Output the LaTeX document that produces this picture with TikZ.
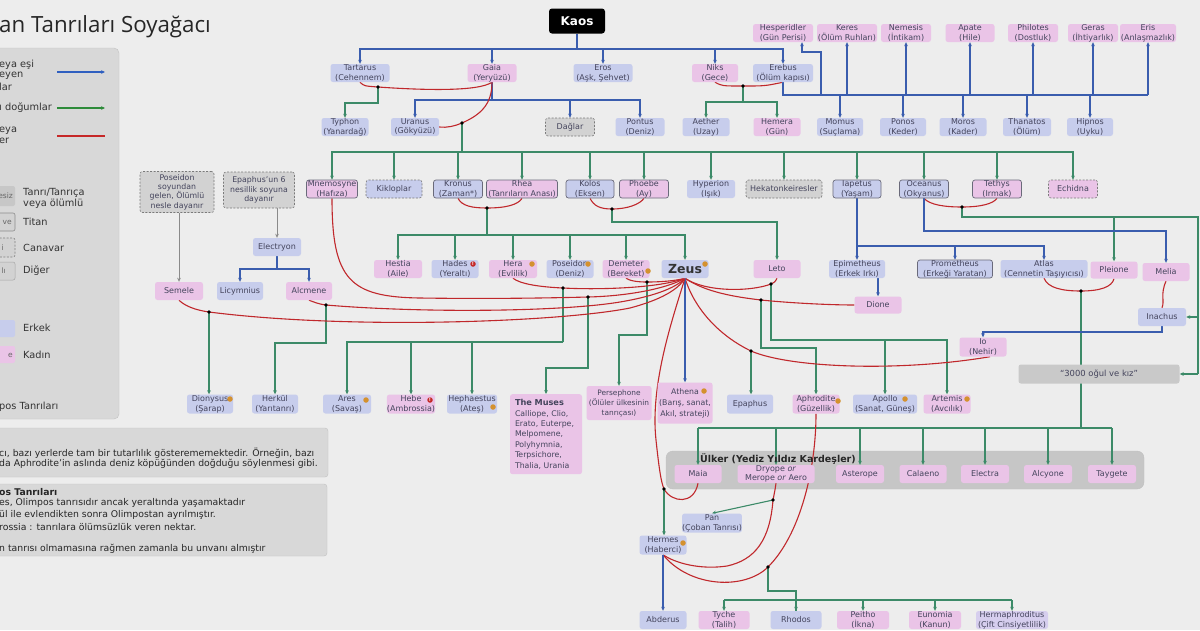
\documentclass[tikz,border=0pt]{standalone}
\usepackage{fontspec}
\setmainfont{DejaVu Sans}
\newfontfamily\titlefont{Open Sans}
\usetikzlibrary{arrows.meta}
\definecolor{bgc}{HTML}{EDEDED}
\definecolor{bluec}{HTML}{C7CDEC}
\definecolor{pinkc}{HTML}{EAC4E7}
\definecolor{grayc}{HTML}{D2D2D2}
\definecolor{lavc}{HTML}{D6CEEE}
\definecolor{txtc}{HTML}{44445C}
\definecolor{titc}{HTML}{6A6A7A}
\definecolor{monc}{HTML}{7A7A7A}
\definecolor{bluel}{HTML}{3A5DAE}
\definecolor{greenl}{HTML}{3C8A68}
\definecolor{redl}{HTML}{C0282C}
\definecolor{grayl}{HTML}{8A8A8A}
\definecolor{panelc}{HTML}{D8D8D8}
\definecolor{panelb}{HTML}{C2C2C2}
\definecolor{ogulc}{HTML}{C9C9C9}
\definecolor{ulkerc}{HTML}{C6C6C6}
\definecolor{olc}{HTML}{D4912F}
\definecolor{redmc}{HTML}{C42A2A}
\definecolor{legb}{HTML}{2F5FC0}
\definecolor{legg}{HTML}{2E8B3A}
\definecolor{legr}{HTML}{C62828}
\pgfdeclarelayer{back}
\pgfdeclarelayer{lines}
\pgfsetlayers{back,lines,main}
\newcommand\nf{\fontsize{8}{9.8}\selectfont}
\begin{document}
\begin{tikzpicture}[x=1pt,y=-1pt,
  nb/.style={rounded corners=2.5pt, inner sep=0pt, minimum height=18pt, align=center, font=\nf, text=txtc},
  mb/.style={nb, fill=bluec},
  fb/.style={nb, fill=pinkc},
  gb/.style={nb, fill=grayc},
  tit/.style={draw=titc, line width=0.7pt},
  mon/.style={draw=monc, dash pattern=on 2pt off 1.5pt, line width=0.6pt},
  wd/.style={minimum width=#1},
  ht/.style={minimum height=#1},
  tip/.style={-{Stealth[length=4pt,width=3.6pt]}},
  bl/.style={draw=bluel, line width=1.2pt},
  blA/.style={bl, tip},
  gr/.style={draw=greenl, line width=1.1pt},
  grA/.style={gr, tip},
  rd/.style={draw=redl, line width=1.1pt},
  gyA/.style={draw=grayl, line width=0.9pt, tip},
  jd/.style={circle, fill=black, inner sep=0pt, minimum size=3.6pt},
  olm/.style={circle, fill=olc, inner sep=0pt, minimum size=5.5pt},
  rdm/.style={circle, fill=redmc, inner sep=0pt, minimum size=5.5pt, text=white, font=\bfseries\fontsize{4.5}{4.5}\selectfont},
  legt/.style={anchor=west, inner sep=0pt, text=black!80, font=\fontsize{9.8}{11}\selectfont},
  notet/.style={anchor=west, inner sep=0pt, text=black!85, font=\fontsize{9.3}{10}\selectfont},
  legbox/.style={rounded corners=2pt}
]
\useasboundingbox (0,0) rectangle (1200,630);
\begin{pgfonlayer}{back}
\fill[bgc] (0,0) rectangle (1200,630);
\draw[fill=panelc, draw=panelb, rounded corners=5pt] (-10,48) rectangle (119,419);
\draw[fill=panelc, draw=panelb, rounded corners=3pt] (-10,428) rectangle (328,477);
\draw[fill=panelc, draw=panelb, rounded corners=3pt] (-10,484) rectangle (327,556);
\draw[fill=ulkerc, draw=black!25, rounded corners=7pt] (666,451) rectangle (1144,489);
\end{pgfonlayer}

% title
\node[anchor=west, inner sep=0pt, font=\titlefont\fontsize{22.3}{22}\selectfont, text=black!85] (title) at (-1,27) {an Tanrıları Soyağacı};

% legend
\node[legt] (l1) at (-1,65) {eya eşi};
\node[legt] (l2) at (-1,76) {eyen};
\node[legt] (l3) at (-1,87) {lar};
\node[legt] (l4) at (-1,108) {ı doğumlar};
\node[legt] (l5) at (-1,131) {eya};
\node[legt] (l6) at (-1,141) {er};
\coordinate (lb1) at (57,72); \coordinate (lb2) at (105,72);
\coordinate (lg1) at (57,108); \coordinate (lg2) at (105,108);
\coordinate (lr1) at (57,136); \coordinate (lr2) at (105,136);
\draw[draw=legb, line width=1.4pt, tip] (lb1) -- (lb2);
\draw[draw=legg, line width=1.4pt, tip] (lg1) -- (lg2);
\draw[draw=legr, line width=1.4pt] (lr1) -- (lr2);
\fill[fill=black!22, rounded corners=2pt] (-12,186) rectangle (15,206);
\node[anchor=east, inner sep=0pt, font=\fontsize{7.5}{8}\selectfont, text=black!60] (e1) at (13,196) {esiz};
\draw[fill=grayc, draw=black!45, line width=0.6pt, rounded corners=2pt] (-12,213) rectangle (15,231);
\node[anchor=east, inner sep=0pt, font=\fontsize{7.5}{8}\selectfont, text=black!60] (e2) at (12,222) {ve};
\draw[fill=grayc, draw=black!50, dash pattern=on 2pt off 1.5pt, line width=0.6pt, rounded corners=2pt] (-12,238) rectangle (15,257);
\node[anchor=east, inner sep=0pt, font=\fontsize{7.5}{8}\selectfont, text=black!60] (e3) at (4,248) {i};
\draw[fill=grayc, draw=black!35, line width=0.5pt, rounded corners=2pt] (-12,262) rectangle (15,280);
\node[anchor=east, inner sep=0pt, font=\fontsize{7.5}{8}\selectfont, text=black!60] (e4) at (6,271) {lı};
\fill[fill=bluec, rounded corners=2pt] (-12,320) rectangle (15,337);
\fill[fill=pinkc, rounded corners=2pt] (-12,346) rectangle (15,363);
\node[anchor=east, inner sep=0pt, font=\fontsize{7.5}{8}\selectfont, text=black!60] (e6) at (13,355) {e};
\node[legt] (t1) at (23,193) {Tanrı/Tanrıça};
\node[legt] (t2) at (23,204) {veya ölümlü};
\node[legt] (t3) at (23,222) {Titan};
\node[legt] (t4) at (23,248) {Canavar};
\node[legt] (t5) at (23,271) {Diğer};
\node[legt] (t6) at (23,328) {Erkek};
\node[legt] (t7) at (23,355) {Kadın};
\node[legt] (t8) at (-1,407) {pos Tanrıları};

% notes
\node[notet] (n1) at (-1,453) {cı, bazı yerlerde tam bir tutarlılık gösterememektedir. Örneğin, bazı};
\node[notet] (n2) at (-1,464) {da Aphrodite’in aslında deniz köpüğünden doğduğu söylenmesi gibi.};
\node[notet, font=\bfseries\fontsize{9.3}{10}\selectfont] (n3) at (-1,492) {os Tanrıları};
\node[notet] (n4) at (-1,503) {es, Olimpos tanrısıdır ancak yeraltında yaşamaktadır};
\node[notet] (n5) at (-1,515) {ül ile evlendikten sonra Olimpostan ayrılmıştır.};
\node[notet] (n6) at (-1,527) {rossia : tanrılara ölümsüzlük veren nektar.};
\node[notet] (n7) at (-1,549) {n tanrısı olmamasına rağmen zamanla bu unvanı almıştır};

% ===== nodes =====
\node[nb, fill=black, text=white, wd=56, ht=25, rounded corners=3pt, font=\bfseries\fontsize{12}{12}\selectfont] (kaos) at (577,21) {Kaos};

\node[fb,wd=60] (hesperidler) at (783,33) {Hesperidler\\(Gün Perisi)};
\node[fb,wd=60] (keres) at (847,33) {Keres\\(Ölüm Ruhları)};
\node[fb,wd=50] (nemesis) at (906,33) {Nemesis\\(İntikam)};
\node[fb,wd=49] (apate) at (970,33) {Apate\\(Hile)};
\node[fb,wd=50] (philotes) at (1033,33) {Philotes\\(Dostluk)};
\node[fb,wd=50] (geras) at (1093,33) {Geras\\(İhtiyarlık)};
\node[fb,wd=56] (eris) at (1148,33) {Eris\\(Anlaşmazlık)};

\node[mb,wd=59] (tartarus) at (360,73) {Tartarus\\(Cehennem)};
\node[fb,wd=49] (gaia) at (492,73) {Gaia\\(Yeryüzü)};
\node[mb,wd=59] (eros) at (603,73) {Eros\\(Aşk, Şehvet)};
\node[fb,wd=46] (niks) at (715,73) {Niks\\(Gece)};
\node[mb,wd=60] (erebus) at (783,73) {Erebus\\(Ölüm kapısı)};

\node[mb,wd=47] (typhon) at (345,127) {Typhon\\(Yanardağ)};
\node[mb,wd=48] (uranus) at (415,127) {Uranus\\(Gökyüzü)};
\node[gb,mon,wd=49] (daglar) at (570,127) {Dağlar};
\node[mb,wd=49] (pontus) at (640,127) {Pontus\\(Deniz)};
\node[mb,wd=47] (aether) at (706,127) {Aether\\(Uzay)};
\node[fb,wd=47] (hemera) at (777,127) {Hemera\\(Gün)};
\node[mb,wd=46] (momus) at (840,127) {Momus\\(Suçlama)};
\node[mb,wd=46] (ponos) at (903,127) {Ponos\\(Keder)};
\node[mb,wd=47] (moros) at (963,127) {Moros\\(Kader)};
\node[mb,wd=48] (thanatos) at (1027,127) {Thanatos\\(Ölüm)};
\node[mb,wd=46] (hipnos) at (1090,127) {Hipnos\\(Uyku)};

\node[fb,tit,wd=51] (mnemosyne) at (332,189) {Mnemosyne\\(Hafıza)};
\node[mb,mon,wd=56] (kikloplar) at (394,189) {Kikloplar};
\node[mb,tit,wd=49] (kronus) at (458,189) {Kronus\\(Zaman*)};
\node[fb,tit,wd=71] (rhea) at (522,189) {Rhea\\(Tanrıların Anası)};
\node[mb,tit,wd=48] (kolos) at (590,189) {Kolos\\(Eksen)};
\node[fb,tit,wd=49] (phoebe) at (644,189) {Phoebe\\(Ay)};
\node[mb,wd=48] (hyperion) at (711,189) {Hyperion\\(Işık)};
\node[gb,mon,wd=76] (hekaton) at (784,189) {Hekatonkeiresler};
\node[mb,tit,wd=48] (iapetus) at (857,189) {Iapetus\\(Yaşam)};
\node[mb,tit,wd=49] (oceanus) at (924,189) {Oceanus\\(Okyanus)};
\node[fb,tit,wd=49] (tethys) at (997,189) {Tethys\\(Irmak)};
\node[fb,mon,wd=49] (echidna) at (1073,189) {Echidna};

\node[fb,wd=48] (hestia) at (398,269) {Hestia\\(Aile)};
\node[mb,wd=47] (hades) at (455,269) {Hades\\(Yeraltı)};
\node[fb,wd=48] (hera) at (513,269) {Hera\\(Evlilik)};
\node[mb,wd=47] (poseidon) at (570,269) {Poseidon\\(Deniz)};
\node[fb,wd=47] (demeter) at (626,269) {Demeter\\(Bereket)};
\node[mb,wd=47,text=black!80,font=\bfseries\fontsize{12.5}{13}\selectfont] (zeus) at (685,269) {Zeus};
\node[fb,wd=47] (leto) at (777,269) {Leto};
\node[mb,wd=56] (epimetheus) at (857,269) {Epimetheus\\(Erkek Irkı)};
\node[mb,tit,wd=75] (prometheus) at (955,269) {Prometheus\\(Erkeği Yaratan)};
\node[mb,wd=87] (atlas) at (1044,269) {Atlas\\(Cennetin Taşıyıcısı)};
\node[fb,wd=47,ht=17] (pleione) at (1114,270) {Pleione};
\node[fb,wd=47] (melia) at (1166,272) {Melia};
\node[fb,wd=47,ht=17] (dione) at (878,305) {Dione};
\node[mb,wd=48] (inachus) at (1162,317) {Inachus};
\node[fb,wd=47,ht=19] (io) at (983,347) {Io\\(Nehir)};
\node[nb,fill=ogulc,wd=161,ht=19,font=\fontsize{8.4}{9}\selectfont] (ogul) at (1099,374) {“3000 oğul ve kız”};

\node[gb,mon,wd=74,ht=41,font=\fontsize{7.8}{9.4}\selectfont] (poseidonbox) at (177,192) {Poseidon\\soyundan\\gelen, Ölümlü\\nesle dayanır};
\node[gb,mon,wd=71,ht=36,font=\fontsize{7.8}{9.4}\selectfont] (epaphusbox) at (259,190) {Epaphus’un 6\\nesillik soyuna\\dayanır};
\node[mb,wd=48] (electryon) at (277,247) {Electryon};
\node[fb,wd=48] (semele) at (179,291) {Semele};
\node[mb,wd=46] (licymnius) at (240,291) {Licymnius};
\node[fb,wd=46] (alcmene) at (309,291) {Alcmene};

\node[mb,wd=46,ht=19] (dionysus) at (210,404) {Dionysus\\(Şarap)};
\node[mb,wd=46,ht=19] (herkul) at (275,404) {Herkül\\(Yarıtanrı)};
\node[mb,wd=48,ht=19] (ares) at (347,404) {Ares\\(Savaş)};
\node[fb,wd=48,ht=19] (hebe) at (411,404) {Hebe\\(Ambrossia)};
\node[mb,wd=50,ht=19] (hephaestus) at (472,404) {Hephaestus\\(Ateş)};
\node[fb,wd=72,ht=80,anchor=north,align=left,text width=62,font=\fontsize{7.8}{10.4}\selectfont] (muses) at (546,394) {\textbf{\fontsize{8.2}{10.4}\selectfont The Muses}\\Calliope, Clio,\\Erato, Euterpe,\\Melpomene,\\Polyhymnia,\\Terpsichore,\\Thalia, Urania};
\node[fb,wd=65,ht=34,font=\fontsize{7.4}{10}\selectfont] (persephone) at (619,403) {Persephone\\(Ölüler ülkesinin\\tanrıçası)};
\node[fb,wd=55,ht=41,font=\fontsize{7.8}{11}\selectfont] (athena) at (685,403) {Athena\\(Barış, sanat,\\Akıl, strateji)};
\node[mb,wd=46,ht=19] (epaphus) at (750,404) {Epaphus};
\node[fb,wd=47,ht=19] (aphrodite) at (816,404) {Aphrodite\\(Güzellik)};
\node[mb,wd=64,ht=19] (apollo) at (885,404) {Apollo\\(Sanat, Güneş)};
\node[fb,wd=47,ht=19] (artemis) at (947,404) {Artemis\\(Avcılık)};

\node[anchor=center, inner sep=0pt, text=black!85, font=\bfseries\fontsize{9.5}{10}\selectfont] (ulker) at (778,459) {Ülker (Yediz Yıldız Kardeşler)};
\node[fb,wd=47] (maia) at (698,474) {Maia};
\node[fb,wd=77] (dryope) at (776,474) {Dryope \textit{or}\\Merope \textit{or} Aero};
\node[fb,wd=48] (asterope) at (860,474) {Asterope};
\node[fb,wd=47] (calaeno) at (923,474) {Calaeno};
\node[fb,wd=48] (electra) at (985,474) {Electra};
\node[fb,wd=48] (alcyone) at (1048,474) {Alcyone};
\node[fb,wd=48] (taygete) at (1112,474) {Taygete};

\node[mb,wd=59,ht=19] (pan) at (712,523) {Pan\\(Çoban Tanrısı)};
\node[mb,wd=47,ht=19] (hermes) at (663,545) {Hermes\\(Haberci)};
\node[mb,wd=47] (abderus) at (663,620) {Abderus};
\node[fb,wd=51] (tyche) at (724,620) {Tyche\\(Talih)};
\node[mb,wd=51] (rhodos) at (796,620) {Rhodos};
\node[fb,wd=52] (peitho) at (863,620) {Peitho\\(İkna)};
\node[fb,wd=52] (eunomia) at (935,620) {Eunomia\\(Kanun)};
\node[nb,fill=lavc,wd=72] (hermaphroditus) at (1012,620) {Hermaphroditus\\(Çift Cinsiyetlilik)};

% ===== junction coordinates =====
\coordinate (dTG) at (378,87);
\coordinate (dGU) at (462,123);
\coordinate (dNE) at (743,86);
\coordinate (dKR) at (487,208);
\coordinate (dKP) at (612,209);
\coordinate (dOT) at (962,207);
\coordinate (dAP) at (1081,291);
\coordinate (dZDe) at (647,282);
\coordinate (dZHe) at (563,288);
\coordinate (dZMn) at (588,297);
\coordinate (dZAl) at (326,305);
\coordinate (dZSe) at (209,312);
\coordinate (dZLe) at (771,284);
\coordinate (dZDi) at (761,300);
\coordinate (dZIo) at (751,351);
\coordinate (dZMa) at (664,489);
\coordinate (dDH) at (773,500);
\coordinate (dAH) at (768,567);

\begin{pgfonlayer}{lines}
% Kaos
\draw[bl] (kaos.south) -- (577,49);
\foreach \c in {tartarus,gaia,eros,niks,erebus} \draw[blA] (577,49) -| (\c.north);
% Tartarus - Gaia
\draw[rd] (tartarus.south) .. controls (364,86) .. (dTG) .. controls (420,90) and (478,92) .. (gaia.south);
\draw[grA] (dTG) -- (dTG |- 0,103) -| (typhon.north);
% Gaia children
\draw[bl] (gaia.south) -- (492,100);
\foreach \c in {uranus,daglar,pontus} \draw[blA] (492,100) -| (\c.north);
% Gaia - Uranus
\draw[rd] (gaia.south) .. controls (492,105) and (480,115) .. (dGU) .. controls (455,126) and (447,128) .. (uranus.east);
\draw[gr] (dGU) -- (462,152);
\foreach \c in {mnemosyne,kikloplar,kronus,rhea,kolos,phoebe,hyperion,hekaton,iapetus,oceanus,tethys,echidna} \draw[grA] (462,152) -| (\c.north);
% Niks - Erebus
\draw[rd] (niks.south) .. controls (722,86) .. (dNE) .. controls (765,86) .. (erebus.south);
\draw[gr] (dNE) -- (743,102);
\foreach \c in {aether,hemera} \draw[grA] (743,102) -| (\c.north);
% Erebus children
\draw[bl, line width=1.4pt] (erebus.south) -- (783,95) -- (eris.south |- 0,95);
\draw[blA] (821,95) -- (821,52) -| ([xshift=19]hesperidler.south);
\foreach \c in {keres,nemesis,apate,philotes,geras,eris} \draw[blA] (\c.south |- 0,95) -- (\c.south);
\foreach \c in {momus,ponos,moros,thanatos,hipnos} \draw[blA] (\c.north |- 0,95) -- (\c.north);
% Kronus - Rhea
\draw[rd] (kronus.south) .. controls (462,206) and (472,208) .. (dKR) .. controls (505,208) and (518,205) .. (rhea.south);
\draw[gr] (dKR) -- (487,235);
\foreach \c in {hestia,hades,hera,poseidon,demeter,zeus} \draw[grA] (487,235) -| (\c.north);
% Kolos - Phoebe
\draw[rd] (kolos.south) .. controls (594,206) and (600,209) .. (dKP) .. controls (628,209) and (640,204) .. (phoebe.south);
\draw[grA] (dKP) -- (612,222) -| (leto.north);
% Oceanus - Tethys
\draw[rd] (oceanus.south) .. controls (930,205) and (945,207) .. (dOT) .. controls (980,207) and (993,204) .. (tethys.south);
\draw[gr] (dOT) -- (962,217) -- (1198,217) -- (1198,374);
\draw[grA] (pleione.north |- 0,217) -- (pleione.north);
\draw[grA] (inachus.east -| 1198,0) -- (inachus.east);
\draw[grA] (ogul.east -| 1198,0) -- (ogul.east);
\draw[blA] (oceanus.south) -- (924,231) -| (melia.north);
% Iapetus
\draw[blA] (iapetus.south) -- (epimetheus.north);
\foreach \c in {prometheus,atlas} \draw[blA] (857,246) -| (\c.north);
\draw[blA] (dione.north |- epimetheus.south) -- (dione.north);
% Atlas - Pleione
\draw[rd] (atlas.south) .. controls (1048,288) and (1062,291) .. (dAP) .. controls (1100,291) and (1112,287) .. (pleione.south);
\draw[gr] (dAP) -- (1081,428);
\draw[gr] (maia.north |- 0,428) -- (taygete.north |- 0,428);
\foreach \c in {maia,dryope,asterope,calaeno,electra,alcyone,taygete} \draw[grA] (\c.north |- 0,428) -- (\c.north);
% Melia - Inachus, Io
\draw[rd] (melia.south) .. controls (1160,295) and (1165,300) .. (inachus.north);
\draw[blA] (inachus.south) -- (1162,332) -| (io.north);
% left lineage
\draw[gyA] (semele.north |- poseidonbox.south) -- (semele.north);
\draw[gyA] (electryon.north |- epaphusbox.south) -- (electryon.north);
\draw[bl] (electryon.south) -- (277,269);
\foreach \c in {licymnius,alcmene} \draw[blA] (277,269) -| (\c.north);
% Zeus unions
\draw[rd] (demeter.south) .. controls (630,281) and (638,282) .. (dZDe) .. controls (660,282) and (675,281) .. (zeus.south);
\draw[grA] (dZDe) -- (647,335) -| (persephone.north);
\draw[rd] (hera.south) .. controls (520,284) and (540,287) .. (dZHe) .. controls (600,290) and (660,288) .. (zeus.south);
\draw[gr] (dZHe) -- (563,342);
\foreach \c in {ares,hebe,hephaestus} \draw[grA] (563,342) -| (\c.north);
\draw[rd] (mnemosyne.south) .. controls (332,280) and (350,297) .. (420,298) .. controls (490,299) and (550,298) .. (dZMn) .. controls (630,296) and (668,288) .. (zeus.south);
\draw[grA] (dZMn) -- (588,368) -| (muses.north);
\draw[rd] (alcmene.south) .. controls (314,302) and (318,304) .. (dZAl) .. controls (420,313) and (560,312) .. (620,302) .. controls (650,297) and (675,289) .. (zeus.south);
\draw[grA] (dZAl) -- (326,343) -| (herkul.north);
\draw[rd] (semele.south) .. controls (185,306) and (195,310) .. (dZSe) .. controls (350,330) and (560,322) .. (630,308) .. controls (660,300) and (678,290) .. (zeus.south);
\draw[grA] (dZSe) -- (dZSe |- dionysus.north);
\draw[rd] (zeus.south) .. controls (705,292) and (750,292) .. (dZLe) .. controls (775,282) .. (leto.south);
\draw[gr] (dZLe) -- (771,340) -- (artemis.north |- 0,340);
\foreach \c in {apollo,artemis} \draw[grA] (771,340) -| (\c.north);
\draw[rd] (zeus.south) .. controls (705,292) and (735,297) .. (dZDi) .. controls (790,303) and (830,305) .. (dione.west);
\draw[grA] (dZDi) -- (761,348) -| (aphrodite.north);
\draw[rd] (zeus.south) .. controls (695,310) and (720,336) .. (dZIo) .. controls (790,368) and (900,372) .. ([xshift=7]io.south);
\draw[grA] (dZIo) -- (dZIo |- epaphus.north);
\draw[blA] (zeus.south) -- (athena.north);
\draw[rd] (zeus.south) .. controls (672,320) and (650,385) .. (656,440) .. controls (659,468) and (661,482) .. (dZMa) .. controls (672,503) and (694,505) .. (maia.south);
\draw[grA] (dZMa) -- (dZMa |- hermes.north);
% Hermes unions
\draw[rd] (dryope.south) .. controls (775,490) .. (dDH) .. controls (770,540) and (755,560) .. (727,566) .. controls (700,570) and (675,563) .. (hermes.south);
\draw[grA] (dDH) -- (pan.north);
\draw[rd] (aphrodite.south) .. controls (816,470) and (800,535) .. (dAH) .. controls (745,590) and (690,588) .. (hermes.south);
\draw[gr] (dAH) -- (768,591) -| (rhodos.north);
\draw[gr] (tyche.north |- 0,600) -- (hermaphroditus.north |- 0,600);
\foreach \c in {tyche,rhodos,peitho,eunomia,hermaphroditus} \draw[grA] (\c.north |- 0,600) -- (\c.north);
\draw[blA] (hermes.south) -- (abderus.north);
\end{pgfonlayer}

% junction dots
\foreach \d in {dTG,dGU,dNE,dKR,dKP,dOT,dAP,dZDe,dZHe,dZMn,dZAl,dZSe,dZLe,dZDi,dZIo,dZMa,dDH,dAH} \node[jd] at (\d) {};

% Olympian markers
\foreach \p in {(705,264),(648,271),(532,264),(588,264),(366,400),(493,407),(230,399),(704,391),(838,401),(905,399),(967,399),(683,543)} \node[olm] at \p {};
\node[rdm] at (473,264) {!};
\node[rdm] at (430,400) {!};
\end{tikzpicture}
\end{document}
